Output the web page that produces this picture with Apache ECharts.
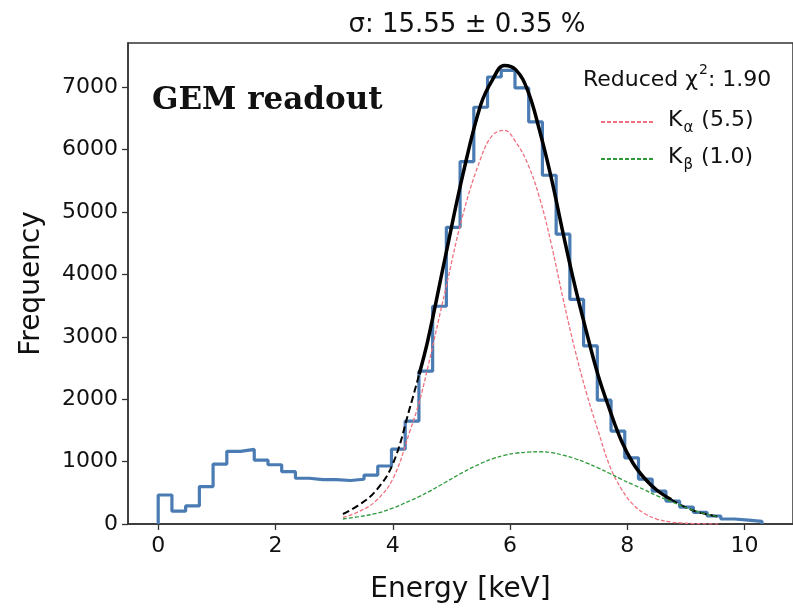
<!DOCTYPE html>
<html>
<head>
<meta charset="utf-8">
<script src="https://cdn.jsdelivr.net/npm/echarts@6/dist/echarts.min.js"></script>
<style>html,body{margin:0;padding:0;background:#fff}#c{width:793px;height:609px}</style>
</head>
<body>
<div id="c"></div>
<script>
// ---- data ----
const binStart = 0;
const binWidth = 0.234;
const counts = [465, 205, 290, 600, 960, 1165, 1195, 1025, 950, 838, 733, 712, 712, 697, 717, 785,
  930, 1200, 1650, 2450, 3490, 4755, 5810, 6680, 7165, 7270, 6990, 6445, 5590, 4645, 3600, 2855,
  1985, 1490, 1060, 720, 528, 368, 272, 187, 128, 80, 62, 43];

const curveX = [3.15, 3.4, 3.7, 4.0, 4.3, 4.45, 4.6, 4.9, 5.2, 5.5, 5.7, 5.9, 6.1, 6.3, 6.5, 6.7, 6.9,
  7.1, 7.3, 7.5, 7.7, 7.9, 8.1, 8.3, 8.5, 8.75, 8.9, 9.1, 9.3, 9.55];
const kAlpha = [105, 190, 360, 720, 1510, 1950, 2520, 3760, 4970, 5860, 6230, 6310, 6120, 5775, 5240,
  4500, 3630, 2820, 2110, 1500, 930, 560, 310, 165, 80, 30, 18, 8, 3, 1];
const kBeta = [80, 115, 165, 255, 375, 440, 510, 670, 830, 970, 1045, 1100, 1135, 1152, 1158, 1145,
  1105, 1050, 980, 900, 810, 715, 630, 545, 455, 360, 300, 225, 170, 117];
const totalFit = [160, 290, 520, 960, 1890, 2400, 2950, 4300, 5620, 6720, 7120, 7350, 7280, 6950, 6320,
  5560, 4680, 3840, 3090, 2390, 1830, 1330, 970, 725, 545, 390, 310, 225, 168, 117];
const fitRange = [4.45, 8.75];

const xTicks = [0, 2, 4, 6, 8, 10];
const yTicks = [0, 1000, 2000, 3000, 4000, 5000, 6000, 7000];
const seriesNames = ['Kα (5.5)', 'Kβ (1.0)'];
const titleText = 'σ: 15.55 ± 0.35 %';
const chiText = ['Reduced χ', '2', ': 1.90'];
const labelText = 'GEM readout';

// ---- build ----
const histPts = [[binStart, 0]];
counts.forEach((c, k) => histPts.push([binStart + k * binWidth, c]));
const histEnd = binStart + counts.length * binWidth;
histPts.push([histEnd, counts[counts.length - 1]]);
histPts.push([histEnd, 0]);

const pairs = (ys) => curveX.map((x, i) => [x, ys[i]]);
const totPairs = pairs(totalFit);
const totLeft = totPairs.filter(p => p[0] <= fitRange[0]);
const totMid = totPairs.filter(p => p[0] >= fitRange[0] && p[0] <= fitRange[1]);
const totRight = totPairs.filter(p => p[0] >= fitRange[1]);

const FONT = 'DejaVu Sans';
const chart = echarts.init(document.getElementById('c'), null, {renderer: 'canvas'});
const lineS = (name, data, color, width, type, z) => ({
  name, type: 'line', data, symbol: 'none', smooth: 0.4, z,
  lineStyle: {color, width, type}, itemStyle: {color}, silent: true, animation: false
});
const axisCommon = {
  splitLine: {show: false},
  axisLine: {show: true, onZero: false, lineStyle: {color: '#333', width: 1.5}},
};

chart.setOption({
  animation: false,
  grid: {left: 128, top: 43, right: -8, bottom: 85, show: true, borderColor: '#333', borderWidth: 1.5,
    backgroundColor: 'transparent'},
  xAxis: Object.assign({
    type: 'value', min: -0.515, max: 10.825,
    axisTick: {show: true, inside: false, length: 6, lineStyle: {color: '#333', width: 1.3}, customValues: xTicks},
    axisLabel: {customValues: xTicks, fontFamily: FONT, fontSize: 22, color: '#111', margin: 11,
      formatter: (v) => String(v)},
    name: 'Energy [keV]', nameLocation: 'middle', nameGap: 52,
    nameTextStyle: {fontFamily: FONT, fontSize: 28, color: '#111'}
  }, axisCommon),
  yAxis: Object.assign({
    type: 'value', min: 0, max: 7710,
    axisTick: {show: true, inside: false, length: 6, lineStyle: {color: '#333', width: 1.3}, customValues: yTicks},
    axisLabel: {customValues: yTicks, fontFamily: FONT, fontSize: 22, color: '#111', margin: 10,
      formatter: (v) => String(v)},
    name: 'Frequency', nameLocation: 'middle', nameGap: 82,
    nameTextStyle: {fontFamily: FONT, fontSize: 28, color: '#111'}
  }, axisCommon),
  legend: {
    data: seriesNames, orient: 'vertical', left: 595, top: 104, itemWidth: 52, itemHeight: 12,
    itemGap: 10,
    itemStyle: {opacity: 0, borderWidth: 0},
    formatter: (n) => '{b|' + n.charAt(0) + '}{s|' + n.charAt(1) + '}{b|' + n.slice(2) + '}',
    textStyle: {
      padding: [0, 0, 0, 10],
      rich: {
        b: {fontFamily: FONT, fontSize: 22, color: '#111', lineHeight: 26, verticalAlign: 'top'},
        s: {fontFamily: FONT, fontSize: 15, color: '#111', lineHeight: 15, padding: [12, 1, 0, 1], verticalAlign: 'top'}
      }
    }
  },
  graphic: [
    {type: 'text', x: 467, y: 25, style: {text: titleText, font: '26px "DejaVu Sans"', fill: '#111',
      textAlign: 'center', textVerticalAlign: 'middle'}},
    {type: 'text', x: 152, y: 101, style: {text: labelText, font: 'bold 31px "DejaVu Serif"', fill: '#111',
      textAlign: 'left', textVerticalAlign: 'middle'}},
    {type: 'text', x: 583, y: 61, style: {
      text: '{a|' + chiText[0] + '}{p|' + chiText[1] + '}{a|' + chiText[2] + '}',
      rich: {
        a: {fontFamily: FONT, fontSize: 22, fill: '#111', lineHeight: 30, verticalAlign: 'bottom'},
        p: {fontFamily: FONT, fontSize: 14, fill: '#111', lineHeight: 14, padding: [0, 0, 14, 1], verticalAlign: 'bottom'}
      }
    }}
  ],
  series: [
    {name: 'hist', type: 'line', data: histPts, step: 'end', symbol: 'none', z: 1, silent: true,
      lineStyle: {color: '#4a7cb3', width: 3.2}, itemStyle: {color: '#4a7cb3'}},
    lineS('totL', totLeft, '#000', 2, [7, 3.5], 3),
    lineS('totM', totMid, '#000', 3.5, 'solid', 3),
    lineS('totR', totRight, '#000', 2, [7, 3.5], 3),
    lineS(seriesNames[0], pairs(kAlpha), '#f0707f', 1.3, [4, 2], 4),
    lineS(seriesNames[1], pairs(kBeta), '#2e9a3a', 1.3, [4, 2], 4)
  ]
});
</script>
</body>
</html>
